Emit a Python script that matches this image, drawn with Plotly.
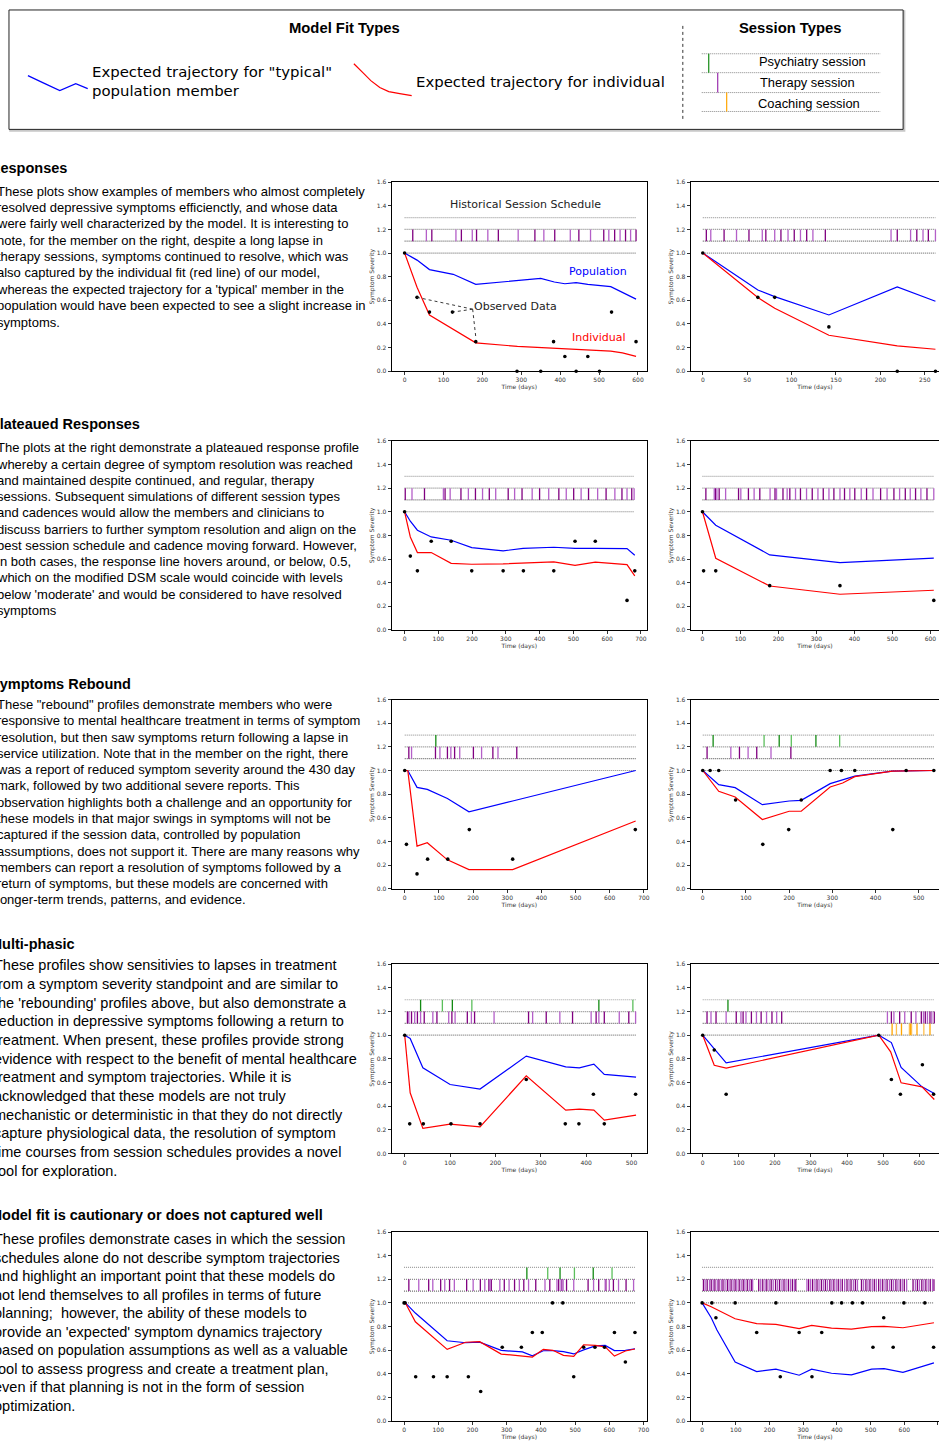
import plotly.graph_objects as go

W, H = 942, 1441


def px(x):
    return x / W


def py(y):
    return 1 - y / H


# ---------------- data ----------------
# Row 1 left
r1l_pop_x = [0, 32, 64, 125, 183, 290, 350, 385, 412, 441, 471, 530, 595]
r1l_pop_y = [1.0, 0.94, 0.86, 0.82, 0.735, 0.765, 0.785, 0.755, 0.74, 0.75, 0.735, 0.715, 0.61]
r1l_ind_x = [0, 32, 64, 183, 290, 350, 412, 471, 530, 560, 595]
r1l_ind_y = [1.0, 0.71, 0.475, 0.24, 0.21, 0.2, 0.185, 0.18, 0.17, 0.155, 0.125]
r1l_obs_x = [0, 32, 64, 123, 183, 289, 350, 383, 412, 441, 471, 501, 532, 595]
r1l_obs_y = [1.0, 0.625, 0.5, 0.5, 0.25, 0, 0, 0.25, 0.125, 0, 0.125, 0, 0.5, 0.25]
r1l_therapy = [21, 56, 70, 132, 146, 174, 185, 214, 241, 292, 335, 358, 386, 426, 448, 478,
               512, 525, 540, 554, 568, 581, 595]
r1l_psych = []
r1l_coach = []
r1l_end = 595

# Row 1 right
r1r_pop_x = [0, 62, 81, 142, 219, 262]
r1r_pop_y = [1.0, 0.687, 0.631, 0.476, 0.713, 0.592]
r1r_ind_x = [0, 62, 81, 142, 219, 262]
r1r_ind_y = [1.0, 0.623, 0.532, 0.304, 0.214, 0.186]
r1r_obs_x = [0, 62, 81, 142, 219, 262]
r1r_obs_y = [1.0, 0.625, 0.625, 0.375, 0, 0]
r1r_therapy = [4, 9, 24, 38, 52, 67, 71, 81, 88, 96, 103, 110, 117, 124, 138,
               212, 219, 234, 241, 248, 254, 262]
r1r_psych = []
r1r_coach = []
r1r_end = 262

# Row 2 left
r2l_pop_x = [0, 17, 38, 79, 138, 199, 292, 351, 442, 505, 565, 659, 682]
r2l_pop_y = [1.0, 0.92, 0.844, 0.787, 0.759, 0.697, 0.669, 0.691, 0.70, 0.691, 0.691, 0.689, 0.632]
r2l_ind_x = [0, 17, 38, 79, 138, 199, 292, 351, 442, 505, 565, 659, 682]
r2l_ind_y = [1.0, 0.787, 0.655, 0.655, 0.564, 0.556, 0.559, 0.564, 0.576, 0.547, 0.573, 0.553, 0.457]
r2l_obs_x = [0, 17, 38, 79, 138, 199, 292, 352, 442, 505, 565, 659, 682]
r2l_obs_y = [1.0, 0.625, 0.5, 0.75, 0.75, 0.5, 0.5, 0.5, 0.5, 0.75, 0.75, 0.25, 0.5]
r2l_therapy = [2, 22, 59, 115, 120, 135, 167, 189, 210, 231, 251, 270, 307, 326, 348, 378,
               400, 427, 457, 479, 501, 523, 545, 572, 597, 623, 644, 659, 673, 680]
r2l_psych = []
r2l_coach = []
r2l_end = 680

# Row 2 right
r2r_pop_x = [0, 35, 177, 362, 609]
r2r_pop_y = [1.0, 0.886, 0.635, 0.570, 0.607]
r2r_ind_x = [0, 35, 177, 362, 609]
r2r_ind_y = [1.0, 0.607, 0.372, 0.302, 0.336]
r2r_obs_x = [0, 3, 35, 177, 362, 609]
r2r_obs_y = [1.0, 0.5, 0.5, 0.375, 0.375, 0.25]
r2r_therapy = [9, 31, 34, 38, 44, 61, 95, 101, 121, 136, 151, 178, 191, 195, 212, 223, 230,
               245, 258, 274, 289, 304, 318, 333, 346, 362, 374, 388, 401, 418, 432, 449, 469,
               486, 504, 519, 534, 547, 561, 575, 591, 609]
r2r_psych = []
r2r_coach = []
r2r_end = 609

# Row 3 left
r3l_pop_x = [0, 9, 36, 66, 125, 188, 316, 676]
r3l_pop_y = [1.0, 1.0, 0.857, 0.840, 0.763, 0.650, 0.742, 1.0]
r3l_ind_x = [0, 9, 36, 66, 125, 188, 316, 676]
r3l_ind_y = [1.0, 0.999, 0.36, 0.389, 0.244, 0.162, 0.162, 0.573]
r3l_obs_x = [0, 5, 36, 67, 126, 189, 316, 675]
r3l_obs_y = [1.0, 0.375, 0.125, 0.25, 0.25, 0.5, 0.25, 0.5]
r3l_therapy = [12, 20, 90, 103, 125, 135, 146, 161, 201, 225, 258, 273, 328]
r3l_psych = [91]
r3l_coach = []
r3l_end = 676

# Row 3 right
r3r_pop_x = [0, 37, 75, 138, 200, 228, 295, 324, 352, 439, 535]
r3r_pop_y = [1.0, 0.880, 0.855, 0.711, 0.742, 0.748, 0.889, 0.922, 0.953, 0.995, 1.0]
r3r_ind_x = [0, 37, 75, 138, 200, 228, 295, 324, 352, 439, 535]
r3r_ind_y = [1.0, 0.824, 0.776, 0.585, 0.655, 0.655, 0.861, 0.894, 0.948, 0.995, 1.0]
r3r_obs_x = [0, 17, 37, 76, 139, 199, 228, 295, 321, 352, 440, 471, 535]
r3r_obs_y = [1, 1, 1, 0.75, 0.375, 0.5, 0.75, 1, 1, 1, 0.5, 1, 1]
r3r_therapy = [10, 65, 85, 105, 125, 158, 204]
r3r_psych = [24, 142, 177, 205, 262, 317]
r3r_coach = []
r3r_end = 535

# Row 4 left
r4l_pop_x = [0, 12, 40, 100, 166, 268, 355, 385, 417, 440, 510]
r4l_pop_y = [1.0, 0.972, 0.724, 0.583, 0.544, 0.823, 0.732, 0.724, 0.755, 0.668, 0.645]
r4l_ind_x = [0, 12, 40, 100, 166, 268, 355, 385, 417, 440, 510]
r4l_ind_y = [1.0, 0.513, 0.211, 0.248, 0.225, 0.656, 0.366, 0.375, 0.366, 0.282, 0.324]
r4l_obs_x = [0, 11, 41, 102, 166, 268, 354, 384, 416, 440, 509]
r4l_obs_y = [1.0, 0.25, 0.25, 0.25, 0.25, 0.625, 0.25, 0.25, 0.5, 0.25, 0.5]
r4l_therapy = [6, 9, 15, 22, 28, 35, 43, 62, 71, 97, 104, 111, 138, 147, 154, 197, 273, 282,
               312, 342, 370, 411, 422, 428, 440, 473, 494, 509]
r4l_psych = [35, 83, 105, 148, 428, 503]
r4l_coach = []
r4l_end = 510

# Row 4 right
r4r_pop_x = [0, 32, 65, 488, 523, 550, 608, 642]
r4r_pop_y = [1.0, 0.887, 0.766, 1.0, 0.938, 0.727, 0.563, 0.507]
r4r_ind_x = [0, 32, 65, 488, 521, 550, 608, 642]
r4r_ind_y = [1.0, 0.746, 0.721, 1.0, 0.859, 0.597, 0.563, 0.456]
r4r_obs_x = [0, 32, 65, 488, 523, 548, 609, 640]
r4r_obs_y = [1, 0.875, 0.5, 1, 0.625, 0.5, 0.75, 0.5]
r4r_therapy = [12, 23, 37, 65, 93, 106, 112, 120, 135, 149, 162, 177, 192, 205, 219, 512, 523,
               530, 546, 560, 578, 591, 606, 612, 617, 623, 630, 635, 642]
r4r_psych = [70]
r4r_coach = [525, 537, 551, 573, 576, 579, 594, 613, 630]
r4r_end = 642

# Row 5 left
r5l_pop_x = [0, 4, 33, 126, 180, 221, 284, 346, 375, 407, 435, 466, 496, 525, 559, 588, 615, 647, 675]
r5l_pop_y = [1.0, 1.0, 0.914, 0.68, 0.663, 0.668, 0.598, 0.585, 0.553, 0.595, 0.597, 0.588, 0.568,
             0.603, 0.636, 0.640, 0.597, 0.598, 0.612]
r5l_ind_x = [0, 4, 33, 126, 180, 221, 284, 346, 375, 407, 435, 466, 496, 525, 559, 588, 615, 647, 675]
r5l_ind_y = [1.0, 0.999, 0.84, 0.607, 0.667, 0.672, 0.567, 0.553, 0.542, 0.607, 0.599, 0.556, 0.548,
             0.646, 0.641, 0.628, 0.550, 0.593, 0.610]
r5l_obs_x = [0, 3, 34, 86, 126, 188, 224, 287, 343, 375, 404, 434, 464, 496, 525, 558, 586, 615, 647, 675]
r5l_obs_y = [1, 1, 0.375, 0.375, 0.375, 0.375, 0.25, 0.625, 0.625, 0.75, 0.75, 1, 1, 0.375, 0.625,
             0.625, 0.625, 0.75, 0.5, 0.75]
r5l_therapy = [14, 43, 72, 84, 107, 119, 133, 147, 183, 202, 223, 236, 248, 251, 255, 280, 293, 307,
               323, 337, 350, 364, 385, 412, 426, 447, 452, 459, 461, 465, 475, 496, 538, 554, 569,
               588, 590, 600, 612, 627, 649, 671]
r5l_psych = [359, 420, 456, 498, 553, 608]
r5l_coach = []
r5l_end = 675

# Row 5 right
r5r_pop_x = [0, 27, 44, 98, 162, 219, 288, 325, 384, 443, 503, 540, 596, 688]
r5r_pop_y = [1.0, 0.875, 0.77, 0.50, 0.419, 0.439, 0.388, 0.439, 0.405, 0.391, 0.439, 0.444, 0.413, 0.492]
r5r_ind_x = [0, 27, 98, 162, 219, 288, 325, 384, 443, 503, 540, 596, 688]
r5r_ind_y = [1.0, 0.967, 0.866, 0.824, 0.818, 0.782, 0.810, 0.787, 0.779, 0.799, 0.801, 0.790, 0.832]
r5r_obs_x = [0, 29, 41, 98, 162, 219, 232, 288, 326, 355, 385, 414, 446, 476, 507, 539, 567, 599, 661, 687]
r5r_obs_y = [1, 1, 0.875, 1, 0.75, 1, 0.375, 0.75, 0.375, 0.75, 1, 1, 1, 1, 0.625, 0.875, 0.625, 1, 1, 0.625]
r5r_therapy = [4, 9, 15, 22, 27, 33, 38, 45, 50, 57, 62, 68, 75, 80, 86, 92, 98, 103, 110, 116, 122,
               127, 134, 140, 146, 150, 168, 174, 180, 187, 192, 199, 205, 211, 218, 224, 230, 237,
               243, 249, 256, 262, 268, 274, 278, 311, 316, 322, 328, 335, 341, 347, 354, 360, 366,
               372, 379, 385, 391, 398, 404, 410, 416, 423, 430, 436, 442, 449, 455, 461, 473, 479,
               486, 492, 498, 505, 511, 517, 524, 530, 536, 543, 549, 556, 562, 568, 575, 581, 588,
               594, 600, 607, 626, 633, 639, 645, 652, 658, 664, 671, 677, 684, 688]
r5r_psych = []
r5r_coach = []
r5r_end = 688

y_ticks = [0.0, 0.2, 0.4, 0.6, 0.8, 1.0, 1.2, 1.4, 1.6]

# ---------------- text ----------------
section_titles = ["Responses", "Plateaued Responses", "Symptoms Rebound", "Multi-phasic",
                  "Model fit is cautionary or does not captured well"]
section_text = [
    ["These plots show examples of members who almost completely",
     "resolved depressive symptoms efficienctly, and whose data",
     "were fairly well characterized by the model. It is interesting to",
     "note, for the member on the right, despite a long lapse in",
     "therapy sessions, symptoms continued to resolve, which was",
     "also captured by the individual fit (red line) of our model,",
     "whereas the expected trajectory for a 'typical' member in the",
     "population would have been expected to see a slight increase in",
     "symptoms."],
    ["The plots at the right demonstrate a plateaued response profile",
     "whereby a certain degree of symptom resolution was reached",
     "and maintained despite continued, and regular, therapy",
     "sessions. Subsequent simulations of different session types",
     "and cadences would allow the members and clinicians to",
     "discuss barriers to further symptom resolution and align on the",
     "best session schedule and cadence moving forward. However,",
     "in both cases, the response line hovers around, or below, 0.5,",
     "which on the modified DSM scale would coincide with levels",
     "below 'moderate' and would be considered to have resolved",
     "symptoms"],
    ["These \"rebound\" profiles demonstrate members who were",
     "responsive to mental healthcare treatment in terms of symptom",
     "resolution, but then saw symptoms return following a lapse in",
     "service utilization. Note that in the member on the right, there",
     "was a report of reduced symptom severity around the 430 day",
     "mark, followed by two additional severe reports. This",
     "observation highlights both a challenge and an opportunity for",
     "these models in that major swings in symptoms will not be",
     "captured if the session data, controlled by population",
     "assumptions, does not support it. There are many reasons why",
     "members can report a resolution of symptoms followed by a",
     "return of symptoms, but these models are concerned with",
     "longer-term trends, patterns, and evidence."],
    ["These profiles show sensitivies to lapses in treatment",
     "from a symptom severity standpoint and are similar to",
     "the 'rebounding' profiles above, but also demonstrate a",
     "reduction in depressive symptoms following a return to",
     "treatment. When present, these profiles provide strong",
     "evidence with respect to the benefit of mental healthcare",
     "treatment and symptom trajectories. While it is",
     "acknowledged that these models are not truly",
     "mechanistic or deterministic in that they do not directly",
     "capture physiological data, the resolution of symptom",
     "time courses from session schedules provides a novel",
     "tool for exploration."],
    ["These profiles demonstrate cases in which the session",
     "schedules alone do not describe symptom trajectories",
     "and highlight an important point that these models do",
     "not lend themselves to all profiles in terms of future",
     "planning;  however, the ability of these models to",
     "provide an 'expected' symptom dynamics trajectory",
     "based on population assumptions as well as a valuable",
     "tool to assess progress and create a treatment plan,",
     "even if that planning is not in the form of session",
     "optimization."],
]

# ---------------- layout geometry ----------------
row_px = [(179, 369), (439, 629), (699, 889), (965, 1155), (1234, 1424)]
col_px = [(393, 649), (693, 942)]
title_y = [165, 422, 683, 945, 1217]
text_y0 = [188, 446, 704, 966, 1241]
text_dy = [16.45, 16.35, 16.35, 18.75, 18.65]
text_size = [13, 13, 13, 14.5, 14.5]
text_x = [-5, -5, -5, -8, -8]

panels = [
    dict(pop=(r1l_pop_x, r1l_pop_y), ind=(r1l_ind_x, r1l_ind_y), obs=(r1l_obs_x, r1l_obs_y),
         th=r1l_therapy, ps=r1l_psych, co=r1l_coach, end=r1l_end, row=0, col=0, xr=[-33, 623], dt=100),
    dict(pop=(r1r_pop_x, r1r_pop_y), ind=(r1r_ind_x, r1r_ind_y), obs=(r1r_obs_x, r1r_obs_y),
         th=r1r_therapy, ps=r1r_psych, co=r1r_coach, end=r1r_end, row=0, col=1, xr=[-13.5, 266], dt=50),
    dict(pop=(r2l_pop_x, r2l_pop_y), ind=(r2l_ind_x, r2l_ind_y), obs=(r2l_obs_x, r2l_obs_y),
         th=r2l_therapy, ps=r2l_psych, co=r2l_coach, end=r2l_end, row=1, col=0, xr=[-38, 718], dt=100),
    dict(pop=(r2r_pop_x, r2r_pop_y), ind=(r2r_ind_x, r2r_ind_y), obs=(r2r_obs_x, r2r_obs_y),
         th=r2r_therapy, ps=r2r_psych, co=r2r_coach, end=r2r_end, row=1, col=1, xr=[-30.7, 622.7], dt=100),
    dict(pop=(r3l_pop_x, r3l_pop_y), ind=(r3l_ind_x, r3l_ind_y), obs=(r3l_obs_x, r3l_obs_y),
         th=r3l_therapy, ps=r3l_psych, co=r3l_coach, end=r3l_end, row=2, col=0, xr=[-38, 709], dt=100),
    dict(pop=(r3r_pop_x, r3r_pop_y), ind=(r3r_ind_x, r3r_ind_y), obs=(r3r_obs_x, r3r_obs_y),
         th=r3r_therapy, ps=r3r_psych, co=r3r_coach, end=r3r_end, row=2, col=1, xr=[-27.7, 547], dt=100),
    dict(pop=(r4l_pop_x, r4l_pop_y), ind=(r4l_ind_x, r4l_ind_y), obs=(r4l_obs_x, r4l_obs_y),
         th=r4l_therapy, ps=r4l_psych, co=r4l_coach, end=r4l_end, row=3, col=0, xr=[-28.6, 534], dt=100),
    dict(pop=(r4r_pop_x, r4r_pop_y), ind=(r4r_ind_x, r4r_ind_y), obs=(r4r_obs_x, r4r_obs_y),
         th=r4r_therapy, ps=r4r_psych, co=r4r_coach, end=r4r_end, row=3, col=1, xr=[-33, 655], dt=100),
    dict(pop=(r5l_pop_x, r5l_pop_y), ind=(r5l_ind_x, r5l_ind_y), obs=(r5l_obs_x, r5l_obs_y),
         th=r5l_therapy, ps=r5l_psych, co=r5l_coach, end=r5l_end, row=4, col=0, xr=[-36, 710], dt=100),
    dict(pop=(r5r_pop_x, r5r_pop_y), ind=(r5r_ind_x, r5r_ind_y), obs=(r5r_obs_x, r5r_obs_y),
         th=r5r_therapy, ps=r5r_psych, co=r5r_coach, end=r5r_end, row=4, col=1, xr=[-33.6, 703], dt=100),
]

PURPLE = ["#800080", "#b45fc8"]
GREEN = ["#138a13", "#5cbf5c"]
ORANGE = ["#ffa500", "#ffbf4d"]
TICKFONT = dict(family="DejaVu Sans", size=6, color="#333333")
GUIDE_DASH = "1px,1px"

fig = go.Figure()
layout_axes = {}


def vlines(days, y0, y1):
    xs, ys = [], []
    for d in days:
        xs += [d, d, None]
        ys += [y0, y1, None]
    return xs, ys


for i, p in enumerate(panels, start=1):
    xa = "x" if i == 1 else f"x{i}"
    ya = "y" if i == 1 else f"y{i}"
    top, bot = row_px[p["row"]]
    left, right = col_px[p["col"]]

    # schedule guide lines
    for lvl, colr in [(1.3, "#a0a0a0"), (1.2, "#8a8a8a"), (1.1, "#6a6a6a"), (1.0, "#7a7a7a")]:
        fig.add_trace(go.Scatter(x=[0, p["end"]], y=[lvl, lvl], mode="lines", xaxis=xa, yaxis=ya,
                                 line=dict(color=colr, width=1.2, dash=GUIDE_DASH), hoverinfo="skip"))
    # sessions
    for days, (y0, y1), cols in [(p["ps"], (1.2, 1.3), GREEN), (p["th"], (1.1, 1.2), PURPLE),
                                 (p["co"], (1.0, 1.1), ORANGE)]:
        for k in range(2):
            sub = days[k::2]
            if not sub:
                continue
            xs, ys = vlines(sub, y0, y1)
            fig.add_trace(go.Scatter(x=xs, y=ys, mode="lines", xaxis=xa, yaxis=ya,
                                     line=dict(color=cols[k], width=1.3), hoverinfo="skip"))
    # model fits
    fig.add_trace(go.Scatter(x=p["pop"][0], y=p["pop"][1], mode="lines", xaxis=xa, yaxis=ya,
                             line=dict(color="#0000ff", width=1.2)))
    fig.add_trace(go.Scatter(x=p["ind"][0], y=p["ind"][1], mode="lines", xaxis=xa, yaxis=ya,
                             line=dict(color="#ff0000", width=1.2)))
    fig.add_trace(go.Scatter(x=p["obs"][0], y=p["obs"][1], mode="markers", xaxis=xa, yaxis=ya,
                             marker=dict(color="black", size=3.6), cliponaxis=False))

    kx = "xaxis" if i == 1 else f"xaxis{i}"
    ky = "yaxis" if i == 1 else f"yaxis{i}"
    layout_axes[kx] = dict(domain=[px(left), px(right)], anchor=ya, range=p["xr"], dtick=p["dt"],
                           tick0=0, showgrid=False, zeroline=False, showline=True, linecolor="black",
                           linewidth=1, mirror=True, ticks="outside", ticklen=3, tickwidth=0.8,
                           tickcolor="#333", tickfont=TICKFONT,
                           title=dict(text="Time (days)", font=TICKFONT, standoff=2))
    layout_axes[ky] = dict(domain=[py(bot), py(top)], anchor=xa, range=[0, 1.6], tickvals=y_ticks,
                           tickformat=".1f", showgrid=False, zeroline=False, showline=True,
                           linecolor="black", linewidth=1.3, mirror=(p["col"] == 0), ticks="outside",
                           ticklen=3, tickwidth=0.8, tickcolor="#333", tickfont=TICKFONT,
                           title=dict(text="Symptom Severity", font=TICKFONT, standoff=1))

# leader lines for "Observed Data" label (row 1 left)
lead_x, lead_y = [], []
for k in (1, 3, 4):
    lead_x += [175, r1l_obs_x[k], None]
    lead_y += [0.525, r1l_obs_y[k] + (0.04 if k == 4 else 0), None]
fig.add_trace(go.Scatter(x=lead_x, y=lead_y, mode="lines", xaxis="x", yaxis="y",
                         line=dict(color="#222", width=0.9, dash="dot"), hoverinfo="skip"))

annotations = []
DV = "DejaVu Sans"
for txt, xx, yy, colr in [("Historical Session Schedule", 310, 1.41, "#222"),
                          ("Population", 497, 0.845, "#0000ff"),
                          ("Observed Data", 285, 0.545, "#222"),
                          ("Individual", 500, 0.285, "#ff0000")]:
    annotations.append(dict(text=txt, x=xx, y=yy, xref="x", yref="y", showarrow=False,
                            font=dict(family=DV, size=11, color=colr)))

# left text column
for r in range(5):
    annotations.append(dict(text="<b>" + section_titles[r] + "</b>", x=px(-12), y=py(title_y[r]),
                            xref="paper", yref="paper", xanchor="left", yanchor="middle",
                            showarrow=False,
                            font=dict(family="Liberation Sans", size=14.5, color="black")))
    for j, line in enumerate(section_text[r]):
        annotations.append(dict(text=line, x=px(text_x[r]), y=py(text_y0[r] + j * text_dy[r]),
                                xref="paper", yref="paper", xanchor="left", yanchor="middle",
                                showarrow=False,
                                font=dict(family="Liberation Sans", size=text_size[r], color="black")))

# top legend box
shapes = []
shapes.append(dict(type="rect", xref="paper", yref="paper", x0=px(10), x1=px(907.5), y0=py(127.5), y1=py(7),
                   line=dict(color="#c8c8c8", width=1.5), fillcolor="#c8c8c8", layer="below"))
shapes.append(dict(type="rect", xref="paper", yref="paper", x0=px(9), x1=px(906), y0=py(126), y1=py(6),
                   line=dict(color="#222222", width=1), fillcolor="white", layer="below"))
shapes.append(dict(type="line", xref="paper", yref="paper", x0=px(685), x1=px(685), y0=py(22), y1=py(118),
                   line=dict(color="#333", width=1, dash="dot")))


def path(points):
    return "M " + " L ".join(f"{px(a)},{py(b)}" for a, b in points)


shapes.append(dict(type="path", xref="paper", yref="paper",
                   path=path([(28, 72), (45, 80), (60, 87), (76, 80), (88, 85)]),
                   line=dict(color="#0000ff", width=1.2)))
shapes.append(dict(type="path", xref="paper", yref="paper",
                   path=path([(355, 60), (364, 69), (372, 77), (381, 84), (390, 88), (401, 90), (413, 92)]),
                   line=dict(color="#ff0000", width=1.2)))
for yy in (50, 69, 89, 108):
    shapes.append(dict(type="line", xref="paper", yref="paper", x0=px(704), x1=px(883), y0=py(yy), y1=py(yy),
                       line=dict(color="#888", width=1, dash=GUIDE_DASH)))
for xx, (ya_, yb_), colr in [(711, (50, 69), "#138a13"), (720, (69, 89), "#9b2fae"),
                             (729, (89, 108), "#ffa500")]:
    shapes.append(dict(type="line", xref="paper", yref="paper", x0=px(xx), x1=px(xx), y0=py(ya_), y1=py(yb_),
                       line=dict(color=colr, width=1.2)))

LS = "Liberation Sans"
for txt, xx, yy, size, fam, anchor in [
        ("<b>Model Fit Types</b>", 346, 24, 14.8, LS, "center"),
        ("<b>Session Types</b>", 793, 24, 14.8, LS, "center"),
        ("Expected trajectory for \"typical\"", 90, 68, 14.9, DV, "left"),
        ("population member", 90, 87, 14.9, DV, "left"),
        ("Expected trajectory for individual", 415, 78, 14.9, DV, "left"),
        ("Psychiatry session", 815, 58, 12.9, LS, "center"),
        ("Therapy session", 810, 79, 12.9, LS, "center"),
        ("Coaching session", 812, 100, 12.9, LS, "center")]:
    annotations.append(dict(text=txt, x=px(xx), y=py(yy), xref="paper", yref="paper", xanchor=anchor,
                            yanchor="middle", showarrow=False, font=dict(family=fam, size=size, color="black")))

fig.update_layout(width=W, height=H, margin=dict(l=0, r=0, t=0, b=0), showlegend=False,
                  paper_bgcolor="white", plot_bgcolor="white", annotations=annotations, shapes=shapes,
                  **layout_axes)

fig.write_html("out.html")
